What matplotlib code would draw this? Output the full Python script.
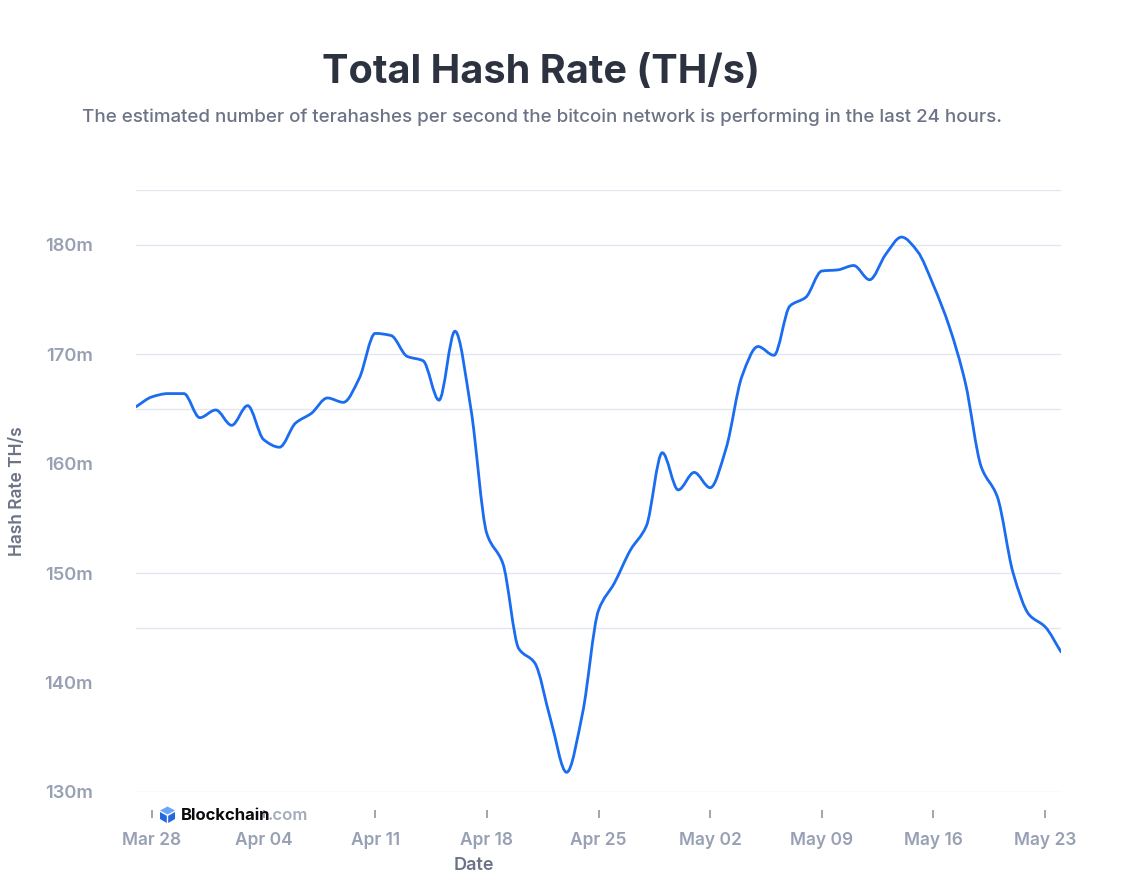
"""Total hash rate chart, blockchain.com style."""

import datetime as dt

import numpy as np
import matplotlib
matplotlib.use("Agg")
import matplotlib.pyplot as plt
import matplotlib.dates as mdates
from matplotlib.path import Path
from matplotlib.patches import PathPatch, Polygon
from matplotlib.ticker import FixedLocator, FuncFormatter

START = dt.date(2021, 3, 27)
# daily values, millions of TH/s
HASH_RATE_M = [
    165.2, 166.1, 166.4, 166.4, 164.2, 164.9, 163.5, 165.3, 162.2, 161.5,
    163.7, 164.6, 166.0, 165.6, 167.8, 171.9, 171.7, 169.8, 169.4, 165.8,
    172.1, 165.0, 153.6, 150.9, 143.1, 141.8, 136.6, 131.8, 137.2, 146.6,
    149.1, 152.1, 154.3, 161.0, 157.6, 159.2, 157.8, 161.4, 168.0, 170.7,
    169.9, 174.4, 175.2, 177.6, 177.7, 178.1, 176.8, 179.1, 180.7, 179.4,
    176.3, 172.5, 167.4, 159.7, 157.0, 150.0, 146.2, 145.1, 142.8,
]
Y_TICKS = [130, 140, 150, 160, 170, 180]
GRID_LEVELS = [130, 145, 150, 165, 170, 180, 185]

TITLE = "Total Hash Rate (TH/s)"
SUBTITLE = ("The estimated number of terahashes per second the bitcoin "
            "network is performing in the last 24 hours.")

W, H = 1146, 873
LINE = "#1a6cf0"
GRID = "#e3e6ee"
TICK_TXT = "#98a1b4"
AXIS_TXT = "#6c7386"
FONT = "Inter"


def px(x, y):
    """pixel coords (from top-left) -> figure fraction"""
    return x / W, 1 - y / H


def monotone_path(x, y):
    # Fritsch-Carlson slopes, drawn as cubic bezier segments
    x = np.asarray(x, float); y = np.asarray(y, float)
    h = np.diff(x); d = np.diff(y) / h
    m = np.zeros_like(y)
    m[0], m[-1] = d[0], d[-1]
    for i in range(1, len(y) - 1):
        if d[i - 1] * d[i] <= 0:
            m[i] = 0
        else:
            w1 = 2 * h[i] + h[i - 1]; w2 = h[i] + 2 * h[i - 1]
            m[i] = (w1 + w2) / (w1 / d[i - 1] + w2 / d[i])
    verts = [(x[0], y[0])]; codes = [Path.MOVETO]
    for i in range(len(h)):
        verts += [(x[i] + h[i] / 3, y[i] + m[i] * h[i] / 3),
                  (x[i + 1] - h[i] / 3, y[i + 1] - m[i + 1] * h[i] / 3),
                  (x[i + 1], y[i + 1])]
        codes += [Path.CURVE4] * 3
    return Path(verts, codes)


dates = [START + dt.timedelta(days=i) for i in range(len(HASH_RATE_M))]
xnum = mdates.date2num(dates)

fig = plt.figure(figsize=(W / 100, H / 100), dpi=100)
fig.patch.set_facecolor("white")
l, b = px(136, 792)
r, t = px(1061, 190)
ax = fig.add_axes([l, b, r - l, t - b])

for lvl in GRID_LEVELS:
    ax.axhline(lvl, color=GRID, lw=1.0, zorder=0)

ax.add_patch(PathPatch(monotone_path(xnum, HASH_RATE_M), fill=False,
                       edgecolor=LINE, lw=2.0, capstyle="round",
                       joinstyle="round", zorder=3))

ax.set_xlim(xnum[0], xnum[-1])
ax.set_ylim(130, 185)
for s in ax.spines.values():
    s.set_visible(False)
ax.spines["bottom"].set_position(("outward", 13))

ax.xaxis.set_major_locator(mdates.WeekdayLocator(byweekday=mdates.SU))
ax.xaxis.set_major_formatter(mdates.DateFormatter("%b %d"))
ax.tick_params(axis="x", length=6, width=1.2, color="#8d96a8", pad=10,
               labelsize=12.5, labelcolor=TICK_TXT)
ax.yaxis.set_major_locator(FixedLocator(Y_TICKS))
ax.yaxis.set_major_formatter(FuncFormatter(lambda v, _: f"{v:.0f}m"))
ax.tick_params(axis="y", length=0, pad=31, labelsize=13.2,
               labelcolor=TICK_TXT)
for lab in ax.get_xticklabels() + ax.get_yticklabels():
    lab.set_fontfamily(FONT); lab.set_fontweight("semibold")
for lab in ax.get_yticklabels():
    lab.set_verticalalignment("center_baseline")

fig.text(*px(541, 73), TITLE, ha="center", va="center", fontsize=28.5,
         fontweight="bold", family=FONT, color="#2d3240")
fig.text(*px(542, 117), SUBTITLE, ha="center", va="center", fontsize=13.5,
         family=FONT, fontweight="medium", color=AXIS_TXT)
fig.text(*px(18, 491), "Hash Rate TH/s", rotation=90, ha="center",
         va="center", fontsize=12.5, family=FONT, fontweight="semibold",
         color=AXIS_TXT)
fig.text(*px(474, 866), "Date", ha="center", va="center", fontsize=13,
         family=FONT, fontweight="semibold", color=AXIS_TXT)

# Blockchain.com watermark
icon = [
    ([(167.5, 806.5), (175, 810.5), (167.5, 814.5), (160, 810.5)], "#6aa6f7"),
    ([(160, 812), (166.8, 815.8), (166.8, 823), (160, 819)], "#2468de"),
    ([(168.2, 815.8), (175, 812), (175, 819), (168.2, 823)], "#2468de"),
]
for pts, col in icon:
    fig.patches.append(Polygon([px(*p) for p in pts], closed=True,
                               transform=fig.transFigure, facecolor=col,
                               edgecolor="none"))
fig.text(*px(181, 820), "Blockchain", ha="left", va="baseline",
         fontsize=12, family=FONT, fontweight="bold", color="#0b0b0f")
fig.text(*px(268, 820), ".com", ha="left", va="baseline",
         fontsize=12, family=FONT, fontweight="semibold", color="#a4abba")

fig.savefig("out.png", dpi=100)
